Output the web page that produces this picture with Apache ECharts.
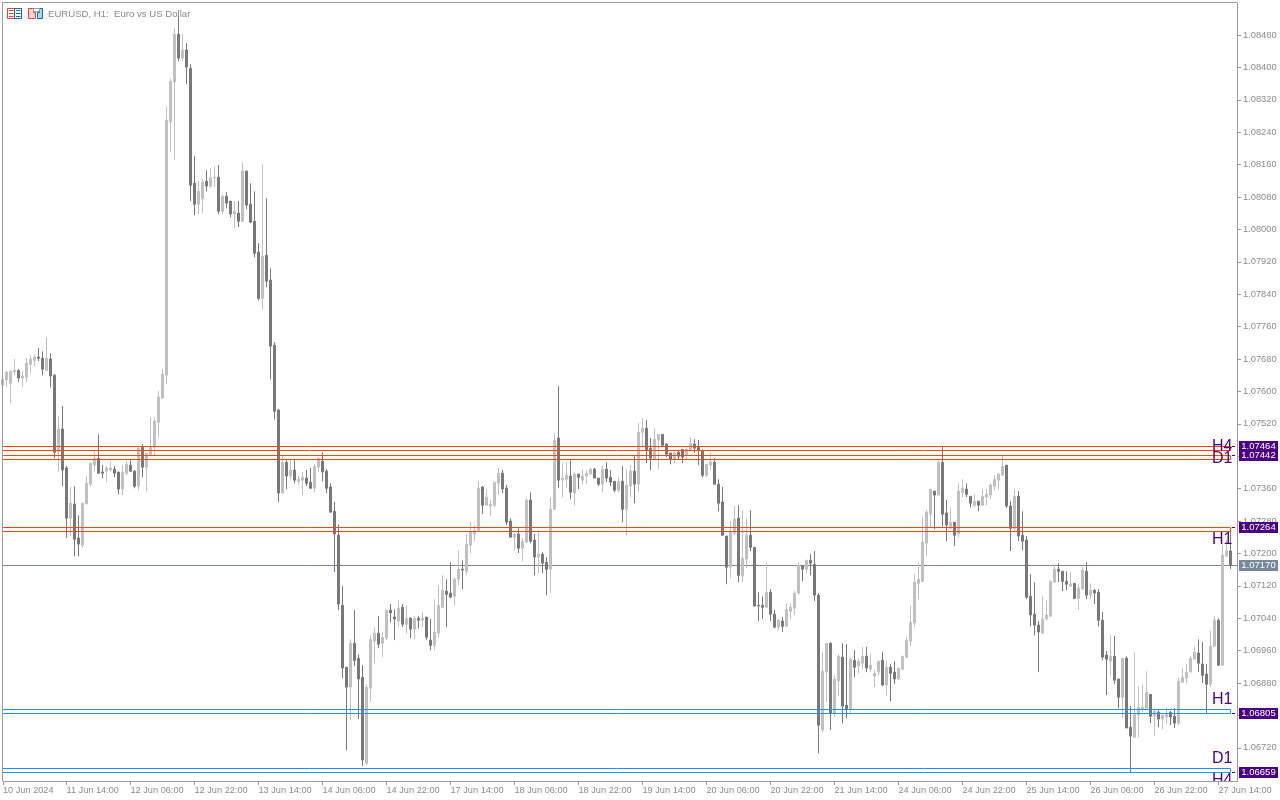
<!DOCTYPE html>
<html>
<head>
<meta charset="utf-8">
<style>html,body{margin:0;padding:0;background:#fff}#c{width:1280px;height:800px}</style>
<script src="https://cdn.jsdelivr.net/npm/echarts@6/dist/echarts.min.js"></script>
</head>
<body>
<div id="c"></div>
<script>
// All prices in points (1e-5)
const opens = [
107615,107628,107620,107648,107652,107633,107635,107667,107677,107685,
107682,107652,107680,107640,107450,107507,107411,107287,107322,107238,
107220,107322,107371,107418,107435,107401,107403,107406,107408,107401,
107359,107398,107418,107403,107366,107462,107413,107443,107462,107524,
107583,107640,108265,108364,108482,108423,108443,108398,108114,108062,
108075,108119,108107,108127,108129,108045,108082,108070,108038,108040,
108020,108144,108062,108020,107944,107830,107936,107875,107714,107554,
107349,107425,107391,107406,107378,107381,107386,107376,107361,107413,
107428,107403,107364,107304,107245,107072,106919,106870,106978,106941,
106894,106682,106867,106983,107003,106978,106991,107060,107043,107033,
107067,107025,107040,107013,107040,107035,107043,106986,106973,107003,
107067,107107,107102,107094,107136,107161,107156,107220,107248,107257,
107364,107319,107317,107319,107373,107398,107361,107280,107240,107248,
107213,107228,107332,107233,107191,107198,107178,107161,107309,107485,
107381,107383,107391,107349,107396,107381,107391,107396,107408,107386,
107371,107408,107388,107378,107356,107378,107309,107366,107403,107371,
107499,107509,107460,107433,107480,107494,107470,107448,107433,107450,
107457,107443,107455,107470,107462,107452,107393,107418,107425,107371,
107327,107243,107166,107250,107287,107144,107186,107245,107215,107072,
107072,107067,107104,107050,107018,107033,107020,107057,107065,107102,
107169,107161,107183,107173,107097,106764,106907,106978,106806,106885,
106944,106825,106816,106936,106922,106929,106946,106914,106897,106907,
106936,106875,106919,106907,106890,106914,106944,106983,107028,107126,
107131,107225,107297,107354,107344,107425,107300,107262,107277,107248,
107351,107359,107341,107319,107329,107319,107339,107344,107366,107381,
107393,107418,107317,107262,107341,107245,107233,107094,107050,107023,
107003,107038,107045,107129,107161,107156,107131,107119,107126,107089,
107112,107156,107097,107109,107104,107035,106949,106934,106946,106890,
106845,106941,106771,106746,106801,106816,106818,106852,106798,106808,
106791,106796,106808,106798,106781,106882,106892,106907,106939,106954,
106927,106902,106877,106971,107035,106924,107193,107206];
const closes = [
107630,107648,107650,107652,107633,107638,107670,107680,107685,107682,
107655,107682,107638,107450,107507,107406,107287,107324,107235,107223,
107324,107373,107423,107435,107398,107398,107411,107411,107398,107359,
107401,107420,107403,107366,107460,107413,107448,107462,107527,107586,
107643,108270,108366,108482,108423,108443,108401,108109,108062,108094,
108117,108107,108127,108129,108045,108082,108065,108038,108045,108020,
108144,108060,108018,107941,107830,107934,107872,107712,107551,107349,
107425,107391,107406,107381,107383,107388,107373,107361,107415,107435,
107401,107361,107302,107248,107075,106917,106870,106978,106936,106890,
106690,106870,106988,107003,106976,106993,107060,107053,107038,107065,
107025,107040,107013,107040,107035,107040,106993,106973,107006,107072,
107109,107099,107092,107136,107161,107159,107223,107253,107257,107361,
107319,107339,107322,107376,107398,107359,107277,107240,107248,107213,
107230,107332,107230,107191,107198,107176,107161,107309,107480,107381,
107386,107393,107351,107396,107388,107391,107398,107408,107386,107371,
107408,107386,107376,107356,107378,107309,107369,107403,107371,107499,
107509,107455,107435,107482,107494,107467,107445,107433,107448,107440,
107438,107457,107472,107460,107455,107393,107420,107425,107371,107324,
107245,107166,107253,107285,107146,107188,107245,107215,107070,107070,
107067,107104,107050,107018,107035,107020,107062,107067,107102,107171,
107161,107183,107176,107097,106776,106909,106978,106806,106890,106946,
106823,106816,106939,106919,106934,106946,106917,106924,106904,106934,
106875,106919,106904,106890,106917,106946,106986,107030,107129,107136,
107228,107302,107359,107344,107425,107297,107270,107277,107245,107354,
107361,107346,107324,107329,107319,107341,107346,107369,107383,107396,
107415,107317,107262,107341,107243,107230,107092,107048,107023,107006,
107038,107048,107131,107161,107156,107131,107124,107124,107089,107114,
107159,107097,107109,107102,107035,106944,106939,106946,106887,106845,
106941,106769,106749,106803,106820,106820,106857,106798,106811,106791,
106801,106803,106796,106781,106885,106894,106907,106941,106956,106929,
106899,106877,106971,107035,106924,107196,107206,107170];
const lows = [
107613,107610,107571,107640,107623,107610,107623,107645,107662,107675,
107640,107650,107610,107435,107401,107366,107238,107243,107193,107193,
107215,107322,107366,107403,107398,107386,107376,107401,107388,107346,
107344,107393,107401,107361,107356,107388,107354,107443,107443,107487,
107583,107618,108191,108171,108415,108415,108359,108070,108035,108038,
108040,108094,108104,108104,108038,108038,108052,108030,108003,108006,
108020,108050,108015,107931,107825,107803,107857,107630,107531,107327,
107349,107359,107383,107373,107369,107344,107366,107359,107351,107401,
107378,107349,107300,107154,107060,106892,106714,106788,106922,106791,
106675,106677,106833,106929,106966,106944,106986,107030,106986,107020,
107018,107003,106991,106988,107015,107018,106986,106961,106961,106993,
107067,107018,107089,107072,107122,107112,107146,107201,107230,107255,
107297,107319,107292,107314,107344,107349,107270,107240,107208,107201,
107181,107225,107225,107146,107151,107151,107097,107102,107309,107361,
107339,107361,107334,107319,107359,107371,107371,107396,107386,107366,
107351,107376,107366,107351,107351,107277,107245,107339,107324,107351,
107465,107423,107406,107430,107408,107465,107438,107420,107423,107433,
107423,107430,107455,107448,107418,107388,107388,107408,107371,107304,
107243,107124,107139,107245,107129,107129,107164,107206,107070,107033,
107038,107067,107033,107015,107010,107006,107018,107038,107048,107097,
107131,107151,107146,107082,106707,106759,106833,106764,106796,106848,
106781,106793,106803,106894,106904,106914,106907,106907,106870,106899,
106872,106848,106835,106877,106887,106914,106941,106971,107020,107087,
107129,107193,107265,107260,107344,107267,107230,107262,107218,107240,
107339,107339,107314,107314,107304,107317,107319,107334,107356,107359,
107393,107312,107206,107255,107230,107208,107087,107020,106998,106907,
107003,107035,107043,107129,107129,107107,107109,107117,107087,107060,
107112,107087,107087,107075,107020,106936,106850,106899,106877,106818,
106793,106769,106660,106744,106746,106808,106818,106781,106749,106771,
106766,106778,106776,106769,106776,106880,106880,106907,106939,106907,
106880,106806,106870,106971,106922,106924,107193,107161];
const highs = [
107633,107650,107652,107680,107655,107650,107682,107689,107692,107707,
107699,107734,107694,107643,107539,107564,107416,107364,107366,107294,
107324,107391,107423,107452,107494,107418,107416,107425,107416,107401,
107418,107428,107430,107406,107462,107470,107448,107536,107536,107601,
107655,108302,108373,108497,108534,108482,108460,108408,108181,108119,
108124,108146,108151,108156,108159,108087,108092,108070,108070,108070,
108166,108144,108114,108094,107966,108161,108077,107904,107722,107556,
107440,107430,107430,107430,107391,107401,107406,107411,107420,107438,
107450,107408,107373,107327,107272,107119,106919,106988,107060,106951,
106924,106877,106998,107018,107045,107006,107060,107075,107062,107085,
107075,107072,107043,107045,107045,107055,107043,107038,107087,107122,
107146,107136,107178,107141,107208,107183,107248,107277,107270,107378,
107366,107359,107332,107376,107411,107406,107369,107287,107250,107262,
107238,107336,107351,107248,107257,107203,107191,107339,107497,107613,
107423,107425,107430,107401,107396,107408,107406,107411,107411,107386,
107418,107425,107406,107378,107388,107415,107408,107418,107440,107522,
107534,107529,107485,107509,107494,107494,107472,107448,107452,107455,
107457,107462,107487,107482,107480,107457,107420,107450,107435,107383,
107364,107243,107280,107317,107319,107307,107287,107307,107215,107104,
107094,107178,107112,107060,107038,107043,107077,107077,107107,107178,
107169,107183,107198,107206,107102,106956,106978,106981,106899,106951,
106978,106976,106944,106961,106941,106969,106969,106951,106912,106934,
106956,106936,106927,106934,106917,106946,106993,107072,107149,107178,
107289,107307,107359,107354,107430,107465,107332,107314,107277,107373,
107383,107373,107341,107346,107329,107359,107359,107373,107393,107398,
107443,107418,107329,107359,107354,107304,107243,107149,107129,107033,
107094,107085,107134,107173,107176,107156,107156,107154,107126,107124,
107166,107178,107126,107112,107112,107055,106959,106998,106996,106890,
106941,106946,106823,106956,106872,106877,106909,106852,106813,106813,
106801,106820,106811,106818,106894,106917,106927,106946,106971,106988,
106981,106927,107010,107045,107040,107220,107233,107257];

const tickLabels = ["10 Jun 2024","11 Jun 14:00","12 Jun 06:00","12 Jun 22:00","13 Jun 14:00","14 Jun 06:00","14 Jun 22:00","17 Jun 14:00","18 Jun 06:00","18 Jun 22:00","19 Jun 14:00","20 Jun 06:00","20 Jun 22:00","21 Jun 14:00","24 Jun 06:00","24 Jun 22:00","25 Jun 14:00","26 Jun 06:00","26 Jun 22:00","27 Jun 14:00"];
const priceTicks = [1.0848,1.084,1.0832,1.0824,1.0816,1.0808,1.08,1.0792,1.0784,1.0776,1.0768,1.076,1.0752,1.0744,1.0736,1.0728,1.072,1.0712,1.0704,1.0696,1.0688,1.068,1.0672];

const zoneTops = [107464,107442,107264,106815,106669];
const zoneBottoms = [107454,107432,107254,106805,106659];
const zoneColors = ["#ff4500","#ff4500","#ff4500","#1e90ff","#1e90ff"];
const levelPrices = [107464,107442,107264,106805,106659];
const levelNames = ["H4","D1","H1","H1","D1","H4"];
const levelNamePrices = [107465,107433,107235,106838,106694,106640];
const lastPrice = 107170;

const P = v => v / 100000;
const barsPerTick = 16;
const xMin = 0.125, xMax = 308.625;          // the window clips half of the first bar
const xTicks = tickLabels.map((_, i) => i === 0 ? xMin : i * barsPerTick);
const candleData = opens.map((o, i) => [i, P(o), P(closes[i]), P(lows[i]), P(highs[i])]);
const lastIdx = opens.length - 1;
const snap = v => Math.floor(v) + 0.5;       // crisp one-pixel lines
const FONT = '"Liberation Sans", sans-serif';
const GREY = '#8a8a92', FRAME = '#9a9aa2', INDIGO = '#4b0082', SLATE = '#778899';

const chart = echarts.init(document.getElementById('c'), null, {renderer: 'canvas', width: 1280, height: 800});
chart.setOption({
  animation: false,
  backgroundColor: '#fff',
  title: {text: 'EURUSD, H1:  Euro vs US Dollar', left: 48, top: 9, padding: 0,
    textStyle: {fontFamily: FONT, fontSize: 9.6, fontWeight: 'normal', color: GREY}},
  grid: {left: 3, top: 3, width: 1234, height: 778, containLabel: false},
  xAxis: {
    type: 'value', min: xMin, max: xMax,
    axisLine: {onZero: false, lineStyle: {color: FRAME, width: 1}},
    axisTick: {show: true, length: 4, customValues: xTicks, lineStyle: {color: FRAME}},
    axisLabel: {align: 'left', margin: 5, color: GREY, fontFamily: FONT, fontSize: 9.2, customValues: xTicks,
      formatter: v => tickLabels[Math.round(v / barsPerTick)]},
    splitLine: {show: false}
  },
  yAxis: {
    type: 'value', position: 'right', min: 1.066381, max: 1.085591,
    axisLine: {show: true, onZero: false, lineStyle: {color: FRAME, width: 1}},
    axisTick: {show: true, length: 4, customValues: priceTicks, lineStyle: {color: FRAME}},
    axisLabel: {margin: 6, color: GREY, fontFamily: FONT, fontSize: 9.3, customValues: priceTicks, formatter: v => v.toFixed(5)},
    splitLine: {show: false}
  },
  series: [
    {type: 'custom', z: 1, clip: true, silent: true, data: [[1]],
      renderItem: (p, api) => {
        const y = snap(api.coord([1, P(lastPrice)])[1]);
        return {type: 'line', shape: {x1: p.coordSys.x, y1: y, x2: p.coordSys.x + p.coordSys.width, y2: y},
          style: {stroke: SLATE, lineWidth: 1}};
      }},
    {type: 'candlestick', z: 2, data: candleData, barWidth: 2, clip: true, silent: true,
      itemStyle: {color: '#c0c0c0', color0: '#787878', borderColor: '#c0c0c0', borderColor0: '#787878', borderWidth: 1}},
    {type: 'custom', z: 3, clip: true, silent: true, data: zoneTops.map((_, i) => [i + 1]),
      renderItem: (p, api) => {
        const i = p.dataIndex;
        const a = api.coord([0, P(zoneTops[i])]);
        const b = api.coord([lastIdx, P(zoneBottoms[i])]);
        const y1 = snap(a[1]), y2 = snap(b[1]);
        return {type: 'rect', shape: {x: a[0], y: y1, width: b[0] - a[0], height: y2 - y1},
          style: {fill: 'none', stroke: zoneColors[i], lineWidth: 1}};
      }},
    {type: 'custom', z: 4, clip: true, silent: true, data: levelNames.map((_, i) => [i + 1]),
      renderItem: (p, api) => {
        const i = p.dataIndex;
        const c = api.coord([lastIdx, P(levelNamePrices[i])]);
        return {type: 'text', style: {text: levelNames[i], x: c[0] + 2, y: c[1], align: 'right', verticalAlign: 'middle',
          fill: INDIGO, font: '16px ' + FONT}};
      }},
    {type: 'custom', z: 5, clip: false, silent: true, data: levelPrices.map((_, i) => [i + 1]),
      renderItem: (p, api) => {
        const i = p.dataIndex;
        const y = snap(api.coord([1, P(levelPrices[i])])[1]);
        const r = p.coordSys.x + p.coordSys.width;
        return {type: 'group', children: [
          {type: 'line', shape: {x1: r - 5, y1: y, x2: r - 2, y2: y}, style: {stroke: INDIGO, lineWidth: 1}},
          {type: 'rect', shape: {x: r + 2, y: y - 5.5, width: 39, height: 11}, style: {fill: INDIGO}},
          {type: 'text', style: {text: P(levelPrices[i]).toFixed(5), x: r + 21.5, y: y, align: 'center', verticalAlign: 'middle',
            fill: '#fff', font: '9.5px ' + FONT}}
        ]};
      }},
    {type: 'custom', z: 5, clip: false, silent: true, data: [[1]],
      renderItem: (p, api) => {
        const y = snap(api.coord([1, P(lastPrice)])[1]);
        const r = p.coordSys.x + p.coordSys.width;
        return {type: 'group', children: [
          {type: 'rect', shape: {x: r + 2, y: y - 5.5, width: 39, height: 11}, style: {fill: SLATE}},
          {type: 'text', style: {text: P(lastPrice).toFixed(5), x: r + 21.5, y: y, align: 'center', verticalAlign: 'middle',
            fill: '#fff', font: '9.5px ' + FONT}}
        ]};
      }}
  ],
  graphic: [
    {type: 'rect', z: 51, silent: true, shape: {x: 2, y: 2, width: 1235, height: 1}, style: {fill: FRAME}},
    {type: 'rect', z: 51, silent: true, shape: {x: 2, y: 2, width: 1, height: 779}, style: {fill: FRAME}},
    // header icons
    {type: 'rect', z: 51, silent: true, shape: {x: 7.5, y: 8.5, width: 14, height: 10}, style: {fill: '#fff', stroke: '#e8423c', lineWidth: 1}},
    {type: 'rect', z: 51, silent: true, shape: {x: 14.5, y: 8.5, width: 7, height: 10}, style: {fill: '#fff', stroke: '#1868b0', lineWidth: 1}},
    {type: 'rect', z: 51, silent: true, shape: {x: 9, y: 10, width: 4.5, height: 1}, style: {fill: '#e8423c'}},
    {type: 'rect', z: 51, silent: true, shape: {x: 9, y: 13, width: 4.5, height: 1}, style: {fill: '#e8423c'}},
    {type: 'rect', z: 51, silent: true, shape: {x: 9, y: 16, width: 4.5, height: 1}, style: {fill: '#e8423c'}},
    {type: 'rect', z: 51, silent: true, shape: {x: 16, y: 10, width: 4.5, height: 1}, style: {fill: '#1868b0'}},
    {type: 'rect', z: 51, silent: true, shape: {x: 16, y: 13, width: 4.5, height: 1}, style: {fill: '#1868b0'}},
    {type: 'rect', z: 51, silent: true, shape: {x: 16, y: 16, width: 4.5, height: 1}, style: {fill: '#1868b0'}},
    {type: 'polygon', z: 51, silent: true, shape: {points: [[28.5,8.5],[33.5,8.5],[33.5,12.5],[35.5,12.5],[35.5,18.5],[28.5,18.5]]}, style: {fill: '#ffd6cf', stroke: '#e8423c', lineWidth: 1}},
    {type: 'polygon', z: 51, silent: true, shape: {points: [[37.5,18.5],[37.5,12.5],[39.5,12.5],[39.5,8.5],[42.5,8.5],[42.5,18.5]]}, style: {fill: '#a9d8f5', stroke: '#1868b0', lineWidth: 1}},
    {type: 'rect', z: 51, silent: true, shape: {x: 33.5, y: 8.5, width: 6, height: 3}, style: {fill: '#fff', stroke: '#9a9aa2', lineWidth: 1}}
  ]
});
</script>
</body>
</html>
